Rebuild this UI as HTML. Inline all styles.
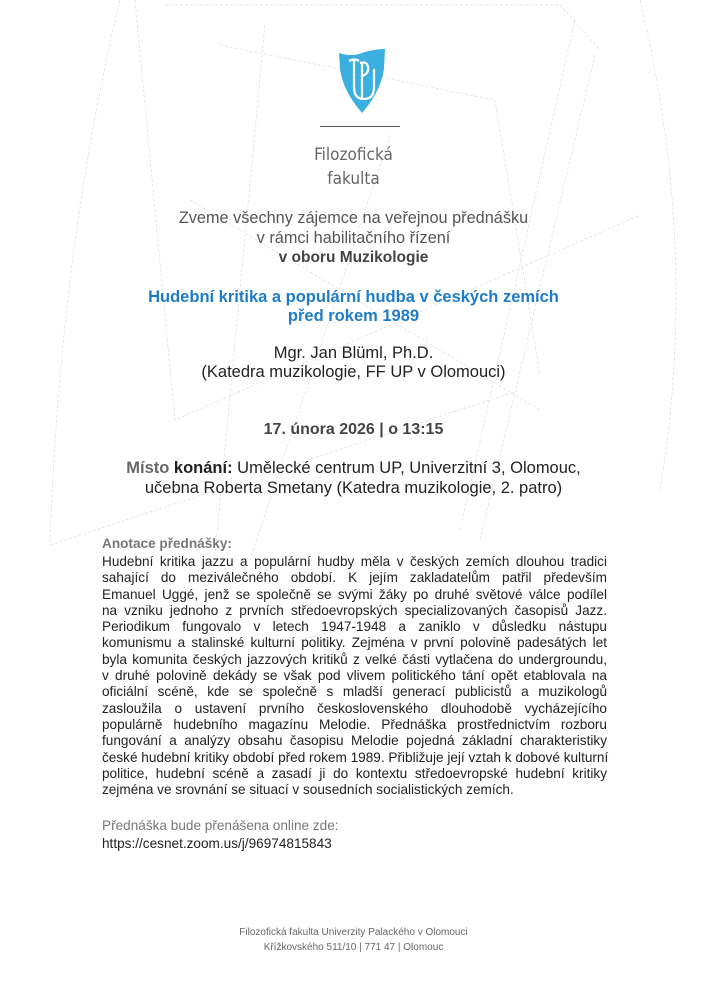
<!DOCTYPE html>
<html><head><meta charset="utf-8"><style>
body{margin:0;width:707px;height:1000px;position:relative;background:#fff;font-family:"Liberation Sans",Arial,sans-serif;overflow:hidden}
.c{position:absolute;left:0;width:707px;text-align:center;white-space:nowrap;line-height:20px}
.b{position:absolute;left:102px;width:505px;font-size:13.6px;line-height:16.3px;color:#222}
.b div{text-align:justify;text-align-last:justify;white-space:nowrap}
.b div.l{text-align-last:left}
</style></head><body>
<svg width="707" height="1000" style="position:absolute;left:0;top:0" fill="none" stroke="#ddd" stroke-width="0.7" stroke-dasharray="3 2">
<path d="M120 0 Q60 250 50 545"/><path d="M640 0 Q700 250 660 490"/>
<path d="M135 0 L175 420 L640 215"/><path d="M165 5 L560 5 L600 50"/>
<path d="M220 45 L495 100 L540 375"/><path d="M595 55 L480 540"/>
<path d="M50 545 L520 390"/><path d="M190 200 L540 410"/>
<path d="M265 25 L215 555"/><path d="M575 20 L460 530"/>
<path d="M390 135 L250 560"/><path d="M380 620 L300 640"/>
</svg>
<svg width="50" height="66" viewBox="0 0 50 66" style="position:absolute;left:337px;top:49px">
<path d="M2 4 Q14 8 25 4 Q36 0 48 0 L47 20 Q44 42 25 64 Q6 42 3 20 Z" fill="#3bb0e0"/>
<path d="M12 12 Q18 9 22 12 M17 11 V38 Q17 50 27 50 Q37 50 37 38 V20 M23 14 Q30 12 31 18 Q32 25 25 27 M25 14 V50" stroke="#fff" stroke-width="2.2" fill="none"/>
</svg>
<div style="position:absolute;left:320px;top:126px;width:80px;height:1px;background:#555"></div>
<div class="c" style="top:145px;font-size:17px;color:#666;font-family:'DejaVu Sans Condensed','DejaVu Sans',sans-serif">Filozofická</div>
<div class="c" style="top:169px;font-size:17px;color:#666;font-family:'DejaVu Sans Condensed','DejaVu Sans',sans-serif">fakulta</div>
<div class="c" style="top:208px;font-size:16.3px;color:#555">Zveme všechny zájemce na veřejnou přednášku</div>
<div class="c" style="top:228px;font-size:16.3px;color:#555">v rámci habilitačního řízení</div>
<div class="c" style="top:248px;font-size:15.5px;color:#444;font-weight:bold">v oboru Muzikologie</div>
<div class="c" style="top:287px;font-size:16.5px;color:#1e7cc8;font-weight:bold">Hudební kritika a populární hudba v českých zemích</div>
<div class="c" style="top:306px;font-size:16.5px;color:#1e7cc8;font-weight:bold">před rokem 1989</div>
<div class="c" style="top:343px;font-size:16.5px;color:#222">Mgr. Jan Blüml, Ph.D.</div>
<div class="c" style="top:362px;font-size:16.5px;color:#222">(Katedra muzikologie, FF UP v Olomouci)</div>
<div class="c" style="top:420px;font-size:16px;color:#444;font-weight:bold">17. února 2026 | o 13:15</div>
<div class="c" style="top:458px;font-size:16.5px;color:#222"><b style="color:#666">Místo</b> <b>konání:</b> Umělecké centrum UP, Univerzitní 3, Olomouc,</div>
<div class="c" style="top:478px;font-size:16.5px;color:#222">učebna Roberta Smetany (Katedra muzikologie, 2. patro)</div>
<div style="position:absolute;left:102px;top:536px;font-size:13.6px;font-weight:bold;color:#777">Anotace přednášky:</div>
<div class="b" style="top:554px">
<div>Hudební kritika jazzu a populární hudby měla v českých zemích dlouhou tradici</div>
<div>sahající do meziválečného období. K jejím zakladatelům patřil především</div>
<div>Emanuel Uggé, jenž se společně se svými žáky po druhé světové válce podílel</div>
<div>na vzniku jednoho z prvních středoevropských specializovaných časopisů Jazz.</div>
<div>Periodikum fungovalo v letech 1947-1948 a zaniklo v důsledku nástupu</div>
<div>komunismu a stalinské kulturní politiky. Zejména v první polovině padesátých let</div>
<div>byla komunita českých jazzových kritiků z velké části vytlačena do undergroundu,</div>
<div>v druhé polovině dekády se však pod vlivem politického tání opět etablovala na</div>
<div>oficiální scéně, kde se společně s mladší generací publicistů a muzikologů</div>
<div>zasloužila o ustavení prvního československého dlouhodobě vycházejícího</div>
<div>populárně hudebního magazínu Melodie. Přednáška prostřednictvím rozboru</div>
<div>fungování a analýzy obsahu časopisu Melodie pojedná základní charakteristiky</div>
<div>české hudební kritiky období před rokem 1989. Přibližuje její vztah k dobové kulturní</div>
<div>politice, hudební scéně a zasadí ji do kontextu středoevropské hudební kritiky</div>
<div class="l">zejména ve srovnání se situací v sousedních socialistických zemích.</div>
</div>
<div style="position:absolute;left:102px;top:818px;font-size:13.6px;color:#777">Přednáška bude přenášena online zde:</div>
<div style="position:absolute;left:102px;top:836px;font-size:13.6px;color:#222">https://cesnet.zoom.us/j/96974815843</div>
<div class="c" style="top:926px;font-size:10px;color:#666;line-height:14px">Filozofická fakulta Univerzity Palackého v Olomouci</div>
<div class="c" style="top:941px;font-size:10px;color:#666;line-height:14px">Křížkovského 511/10 | 771 47 | Olomouc</div>
</body></html>
